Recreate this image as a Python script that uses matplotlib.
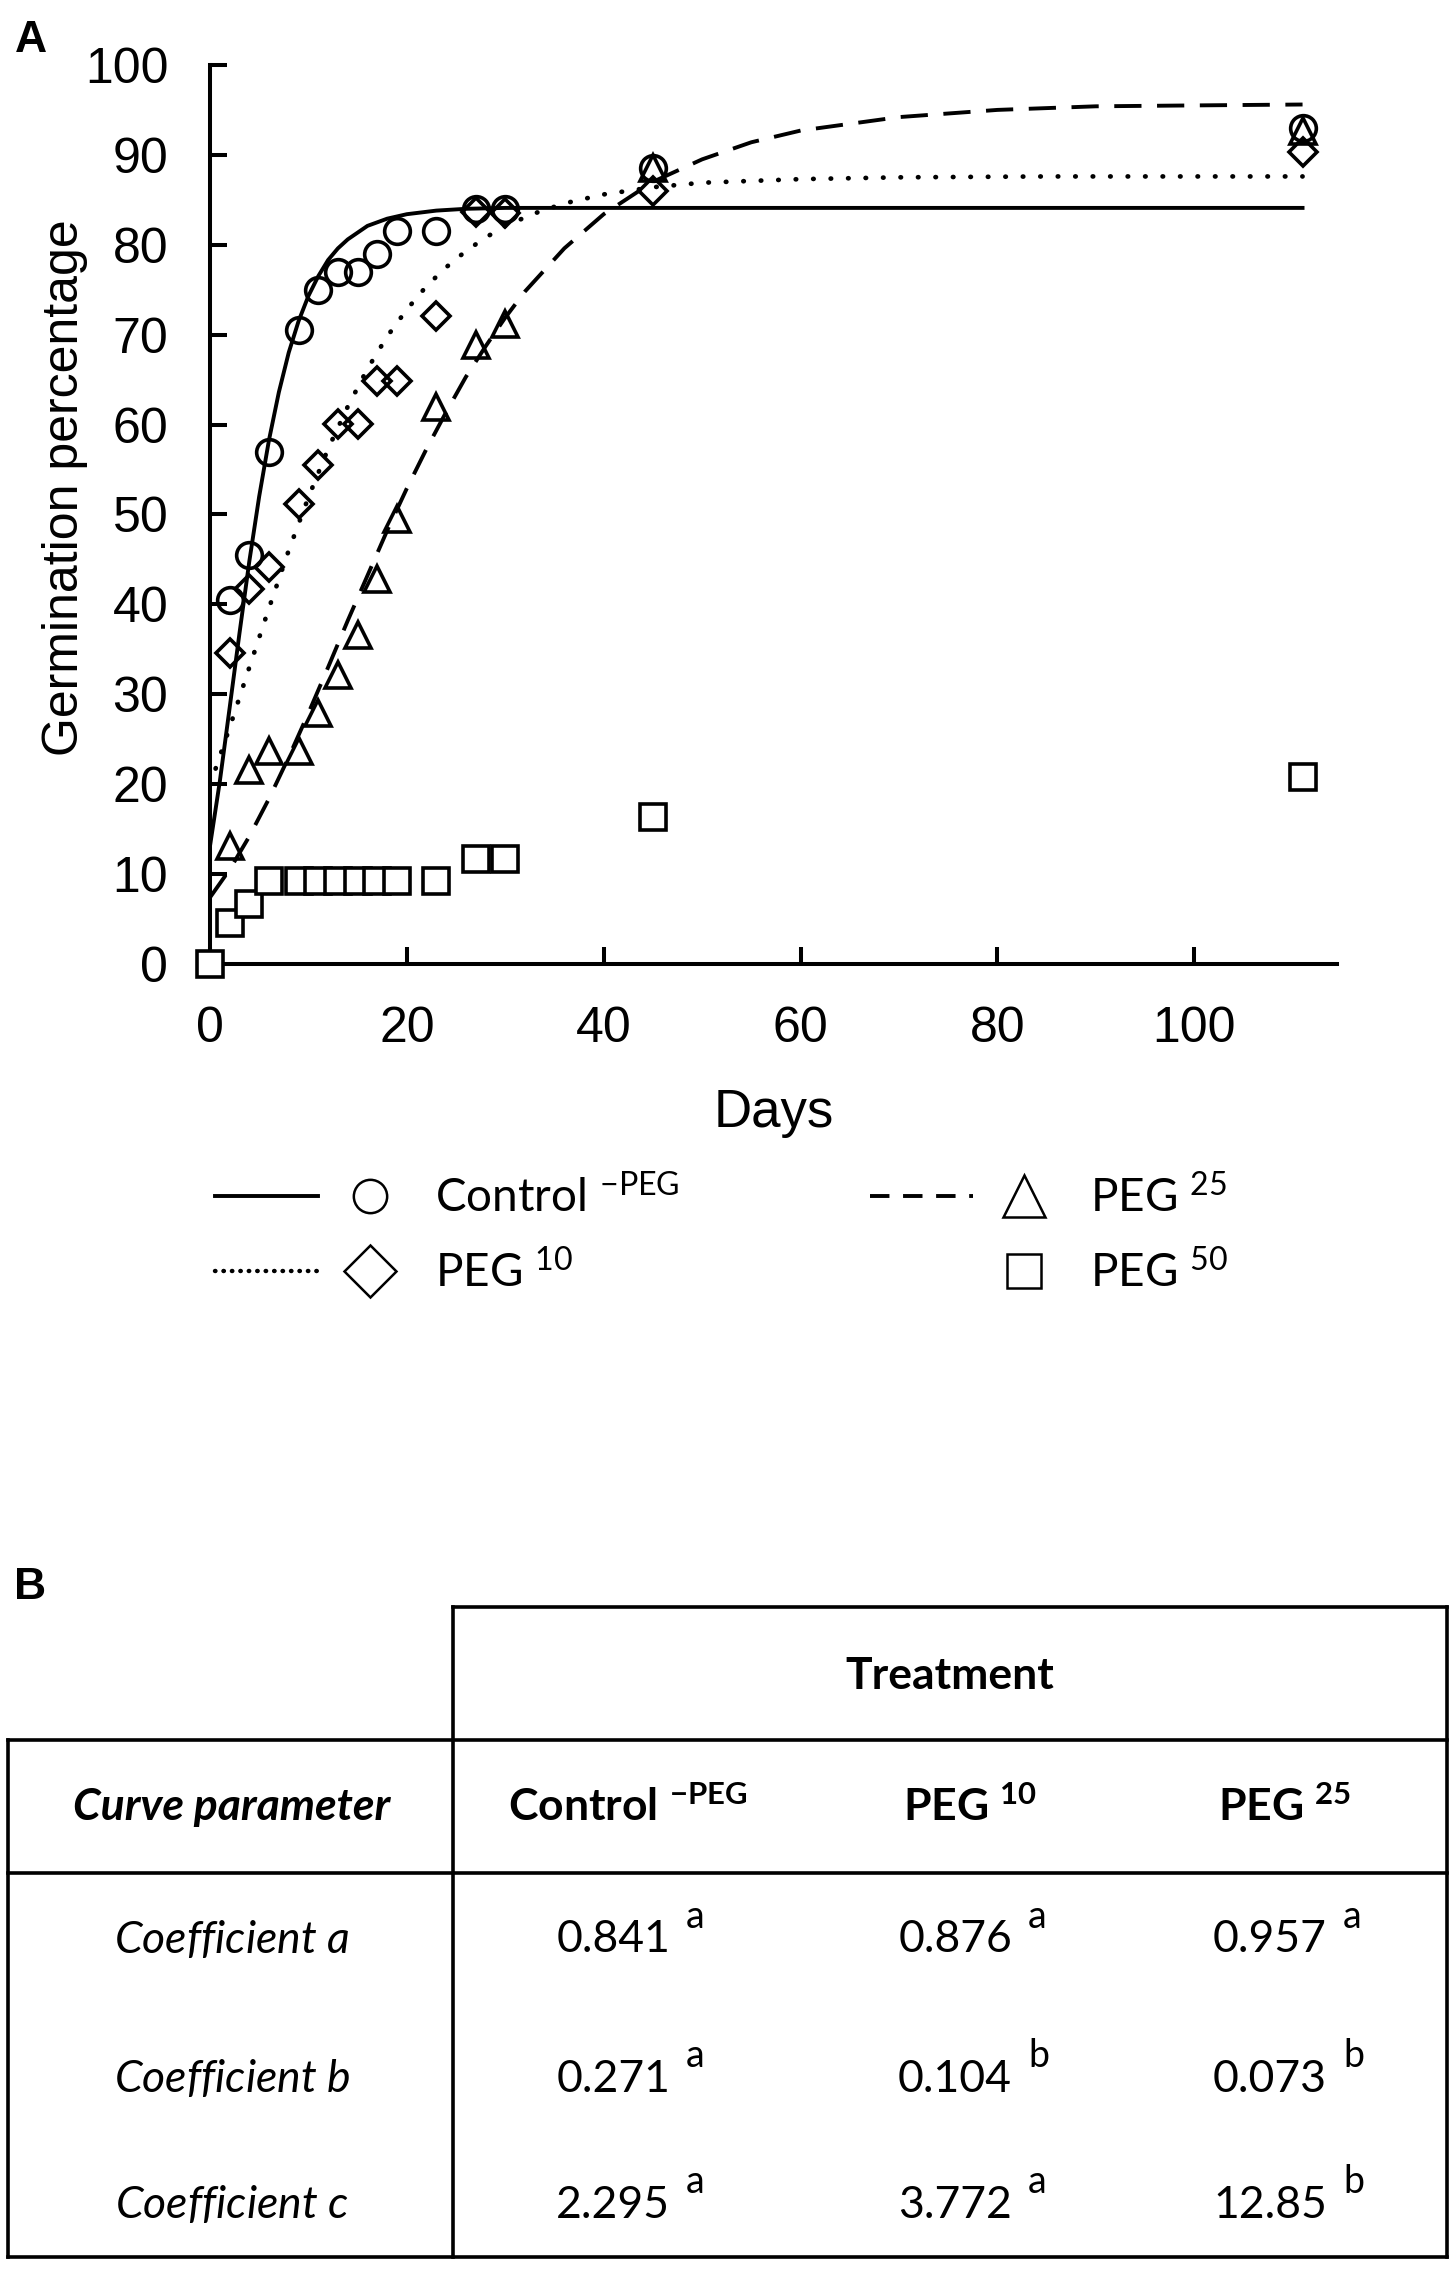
import matplotlib
matplotlib.use('Agg')
import matplotlib.pyplot as plt
from matplotlib.lines import Line2D
from matplotlib.legend_handler import HandlerTuple

plt.rcParams['font.family'] = ['Liberation Sans', 'DejaVu Sans']
plt.rcParams['mathtext.fontset'] = 'custom'
plt.rcParams['mathtext.rm'] = 'Lato'
plt.rcParams['mathtext.it'] = 'Lato:italic'
plt.rcParams['mathtext.bf'] = 'Lato:bold'

# observed germination (%)
days = [2, 4, 6, 9, 11, 13, 15, 17, 19, 23, 27, 30, 45, 111]
control = [40.5, 45.5, 57, 70.5, 75, 77, 77, 79, 81.5, 81.5, 84, 84, 88.5, 93]
peg10 = [34.6, 41.7, 44.2, 51.2, 55.5, 60.1, 60.1, 64.9, 64.9, 72.1, 83.7, 83.5, 86, 90.3]
peg25 = [13.1, 21.6, 23.7, 23.7, 27.9, 32.2, 36.6, 42.8, 49.5, 62.0, 68.9, 71.2, 88.5, 92.6]
peg50_days = [0, 2, 4, 6, 9, 11, 13, 15, 17, 19, 23, 27, 30, 45, 111]
peg50 = [0, 4.6, 6.7, 9.2, 9.2, 9.2, 9.2, 9.2, 9.2, 9.2, 9.2, 11.7, 11.7, 16.4, 20.8]

# fitted curves
fit_ctrl_days = [0, 1, 2, 3, 4, 5, 6, 7, 8, 9, 10, 11, 12, 13, 14, 16, 18, 20, 23, 26, 30, 111]
fit_ctrl = [13.1, 20.3, 28.5, 36.8, 44.8, 52.0, 58.3, 63.6, 68.0, 71.5, 74.3, 76.5, 78.3, 79.6,
            80.6, 82.1, 82.9, 83.4, 83.8, 84.0, 84.1, 84.1]
fit_p10_days = [0, 2, 4, 6, 8, 10, 12, 14, 16, 18, 20, 22, 24, 26, 28, 30, 33, 36, 40, 45, 50,
                60, 70, 85, 111]
fit_p10 = [19.9, 26.3, 33.0, 39.6, 46.0, 51.9, 57.3, 62.0, 66.2, 69.8, 72.8, 75.4, 77.5, 79.3,
           80.8, 82.1, 83.5, 84.6, 85.6, 86.4, 86.9, 87.3, 87.5, 87.6, 87.6]
fit_p25_days = [0, 2, 4, 6, 8, 10, 12, 14, 16, 18, 20, 22, 24, 26, 28, 30, 32, 36, 40, 45, 50,
                55, 60, 70, 80, 90, 100, 111]
fit_p25 = [7.4, 10.5, 14.2, 18.4, 23.0, 27.9, 33.0, 38.2, 43.2, 48.2, 52.9, 57.3, 61.4, 65.3,
           68.7, 71.9, 74.8, 79.6, 83.4, 87.0, 89.5, 91.4, 92.7, 94.2, 95.0, 95.4, 95.5, 95.6]

# table B
col_heads = ['Control $^{\\mathbf{-PEG}}$', 'PEG $^{\\mathbf{10}}$', 'PEG $^{\\mathbf{25}}$']
row_heads = ['Coefficient $\\mathit{a}$', 'Coefficient $\\mathit{b}$', 'Coefficient $\\mathit{c}$']
coef = [['0.841', '0.876', '0.957'],
        ['0.271', '0.104', '0.073'],
        ['2.295', '3.772', '12.85']]
letters = [['a', 'a', 'a'],
           ['a', 'b', 'b'],
           ['a', 'a', 'b']]

fig = plt.figure(figsize=(14.55, 22.71), dpi=100)
ax = fig.add_axes([0.1443, 0.5755, 0.7746, 0.3959])

ax.plot(fit_ctrl_days, fit_ctrl, color='k', lw=2.8, ls='-')
ax.plot(fit_p10_days, fit_p10, color='k', lw=3.4, ls=(0, (0.1, 3.6)), dash_capstyle='round')
ax.plot(fit_p25_days, fit_p25, color='k', lw=2.8, ls=(0, (7, 4)))

mk = dict(ls='none', mec='k', mew=2.6, clip_on=False, zorder=5)
ax.plot(days, control, marker='o', ms=18.5, mfc='none', **mk)
ax.plot(days, peg10, marker='D', ms=14.5, mfc='none', **mk)
ax.plot(days, peg25, marker='^', ms=19, mfc='none', **mk)
ax.plot(peg50_days, peg50, marker='s', ms=19, mfc='white', **mk)

ax.set_xlim(0, 114.5)
ax.set_ylim(0, 100)
ax.set_xticks(range(0, 101, 20))
ax.set_yticks(range(0, 101, 10))
for s in ['top', 'right']:
    ax.spines[s].set_visible(False)
for s in ['left', 'bottom']:
    ax.spines[s].set_linewidth(2.9)
ax.tick_params(direction='in', length=12, width=2.9, labelsize=36, pad=30)
ax.set_xlabel('Days', fontsize=38, labelpad=26)
ax.set_ylabel('Germination percentage', fontsize=36)
ax.yaxis.set_label_coords(-0.108, 0.53)

fig.text(0.021, 0.982, 'A', fontsize=32, fontweight='bold', ha='center', va='center')
fig.text(0.021, 0.301, 'B', fontsize=32, fontweight='bold', ha='center', va='center')

# legend
h_ctrl = (Line2D([], [], color='k', lw=2.8),
          Line2D([], [], ls='none', marker='o', ms=24, mfc='none', mec='k', mew=1.8))
h_p10 = (Line2D([], [], color='k', lw=3.2, ls=(0, (0.1, 1.8)), dash_capstyle='round'),
         Line2D([], [], ls='none', marker='D', ms=26, mfc='none', mec='k', mew=1.8))
h_p25 = (Line2D([], [], color='k', lw=2.8, ls=(0, (5, 3.5))),
         Line2D([], [], ls='none', marker='^', ms=30, mfc='none', mec='k', mew=1.8))
h_p50 = (Line2D([], [], ls='none'),
         Line2D([], [], ls='none', marker='s', ms=24, mfc='none', mec='k', mew=1.8))
labels = ['Control $^{\\mathrm{-PEG}}$', 'PEG $^{\\mathrm{10}}$',
          'PEG $^{\\mathrm{25}}$', 'PEG $^{\\mathrm{50}}$']
fig.legend([h_ctrl, h_p10, h_p25, h_p50], labels, ncol=2, frameon=False,
           loc='upper left', bbox_to_anchor=(215 / 1455, 1 - 1174 / 2271),
           borderaxespad=0, borderpad=0, handlelength=4.5, handletextpad=0.3,
           columnspacing=4.15, labelspacing=0.65,
           handler_map={tuple: HandlerTuple(ndivide=2, pad=0)},
           prop={'family': 'Lato', 'size': 33})

# table overlay in pixel units
ov = fig.add_axes([0, 0, 1, 1])
ov.set_xlim(0, 1455)
ov.set_ylim(2271, 0)
ov.axis('off')
ov.patch.set_alpha(0)

xl, xm, xr = 8, 453, 1447
yt, y1, y2, yb = 1607, 1740, 1873, 2257
lk = dict(color='k', lw=2.6, solid_capstyle='projecting')
ov.plot([xm, xr], [yt, yt], **lk)
for yy in [y1, y2, yb]:
    ov.plot([xl, xr], [yy, yy], **lk)
ov.plot([xl, xl], [y1, yb], **lk)
ov.plot([xm, xm], [yt, yb], **lk)
ov.plot([xr, xr], [yt, yb], **lk)

tk = dict(family='Lato', fontsize=32, ha='center', va='center')
col_x = [628, 970, 1285]
row_y = [1940, 2079, 2205]
ov.text((xm + xr) / 2, 1676, 'Treatment', fontweight='bold', **tk)
ov.text(232, 1807, 'Curve parameter', fontweight='bold', style='italic', **tk)
for cx, head in zip(col_x, col_heads):
    ov.text(cx, 1807, head, fontweight='bold', **tk)
for ry, rh, vals, lets in zip(row_y, row_heads, coef, letters):
    ov.text(232, ry, rh, style='italic', **tk)
    for cx, v, l in zip(col_x, vals, lets):
        ov.text(cx + 42, ry, v, family='Lato', fontsize=32, ha='right', va='center')
        ov.text(cx + 58, ry - 12, l, family='Lato', fontsize=27, ha='left', va='baseline')

fig.savefig('out.png', dpi=100)
